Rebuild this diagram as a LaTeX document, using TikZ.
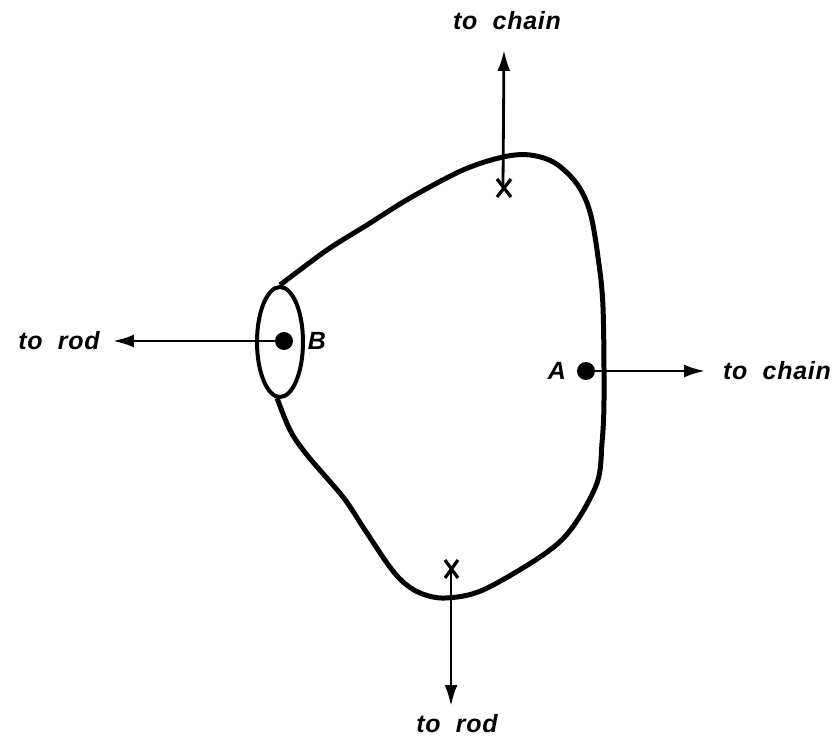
\documentclass[tikz,border=0pt]{standalone}
\usepackage{fontspec}
\setmainfont{Liberation Sans}[LetterSpace=3,WordSpace=2.0]
\usetikzlibrary{arrows.meta}
\tikzset{
 lab/.style={font=\bfseries\itshape\fontsize{25}{30}\selectfont,inner sep=0pt,text=black},
 arr/.style={line width=2.8pt,-{Latex[length=21pt,width=13pt]}},
 outline/.style={line width=5pt,line join=round},
 dotn/.style={circle,fill=black,minimum size=18pt,inner sep=0pt},
 cross/.style={line width=3.2pt}
}
\begin{document}
\begin{tikzpicture}[x=0.0352cm,y=-0.0352cm]
\useasboundingbox (0,0) rectangle (837,738);
\draw[outline] plot[smooth,tension=0.55] coordinates {
 (280,285) (327,250) (367,225) (410,198) (463,170) (503,157) (530,155) (555,163) (577,184) (590,212) (598,257) (603,307) (604,400) (602,443) (597,483) (572,528) (543,555) (483,590) (445,598) (420,593) (402,581) (387,563) (363,527) (343,497) (307,455) (290,430) (277,398)};
\draw[line width=4pt] (280,342) ellipse (23 and 55);
\node[dotn] (B) at (284,341) {};
\node[dotn] (A) at (586,371) {};
\coordinate (xt) at (503,186);
\coordinate (xb) at (451,570);
\node[lab] (tc) at (507,21) {to chain};
\node[lab] (tr) at (59,341) {to rod};
\node[lab] (rc) at (777,371) {to chain};
\node[lab] (br) at (457,724) {to rod};
\node[lab] (lb) at (317,341) {B};
\node[lab] (la) at (557,371) {A};
\coordinate (tt) at (504,50);
\coordinate (tl) at (113,341);
\coordinate (tR) at (705,371);
\coordinate (tb) at (451,706);
\draw[arr] (xt) -- (tt);
\draw[arr] (B) -- (tl);
\draw[arr] (A) -- (tR);
\draw[arr] (xb) -- (tb);
\draw[cross] (497,179) -- (511,197) (511,179) -- (497,197);
\draw[cross] (445,560) -- (458,578) (458,560) -- (445,578);
\end{tikzpicture}
\end{document}
